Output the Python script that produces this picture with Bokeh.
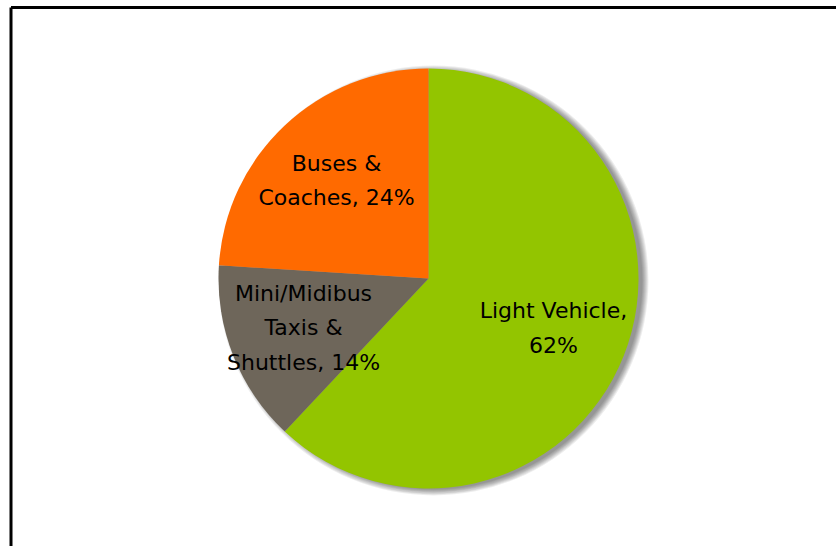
import math
from bokeh.plotting import figure
from bokeh.models import Range1d, ColumnDataSource
from bokeh.core.properties import value
from bokeh.embed import file_html
from bokeh.resources import INLINE

# ---- data ----
categories = ["Light Vehicle", "Mini/Midibus Taxis & Shuttles", "Buses & Coaches"]
shares = [62, 14, 24]
labels = ["Light Vehicle,\n62%", "Mini/Midibus\nTaxis &\nShuttles, 14%", "Buses &\nCoaches, 24%"]
colors = ["#93C500", "#6E665A", "#FF6A00"]

W, H = 836, 546
CX, CY, R = 428, H - 278, 210

p = figure(width=W, height=H, output_backend="svg", toolbar_location=None,
           x_range=Range1d(0, W), y_range=Range1d(0, H),
           x_axis_location=None, y_axis_location=None, min_border=0)
p.grid.visible = False
p.outline_line_color = None
p.background_fill_color = "white"
p.border_fill_color = "white"

# frame lines (top and left) of the chart area
p.line([10.5, W + 5], [H - 7, H - 7], line_color="black", line_width=3)
p.line([10.5, 10.5], [H - 7, -5], line_color="black", line_width=3)

# soft shadow
for k in range(7):
    p.circle(x=CX + 5, y=CY - 2, radius=R + 5 - k, fill_color="black",
             fill_alpha=0.07, line_color=None)

# wedges (clockwise from 12 o'clock)
total = sum(shares)
starts, ends, mids = [], [], []
a = math.pi / 2
for s in shares:
    sweep = 2 * math.pi * s / total
    starts.append(a)
    ends.append(a - sweep)
    mids.append(a - sweep / 2)
    a -= sweep

src = ColumnDataSource(dict(start=starts, end=ends, color=colors, cat=categories))
p.wedge(x=CX, y=CY, radius=R, start_angle="start", end_angle="end",
        direction="clock", fill_color="color", line_color=None, source=src)

frac = 0.64
lx = [CX + frac * R * math.cos(m) for m in mids]
ly = [CY + frac * R * math.sin(m) for m in mids]
lsrc = ColumnDataSource(dict(x=lx, y=ly, text=labels))
p.text(x="x", y="y", text="text", source=lsrc, text_align="center",
       text_baseline="middle", text_font=value("DejaVu Sans"),
       text_font_size="22px", text_color="black", text_line_height=1.38)

open("out.html", "w").write(file_html(p, INLINE))
